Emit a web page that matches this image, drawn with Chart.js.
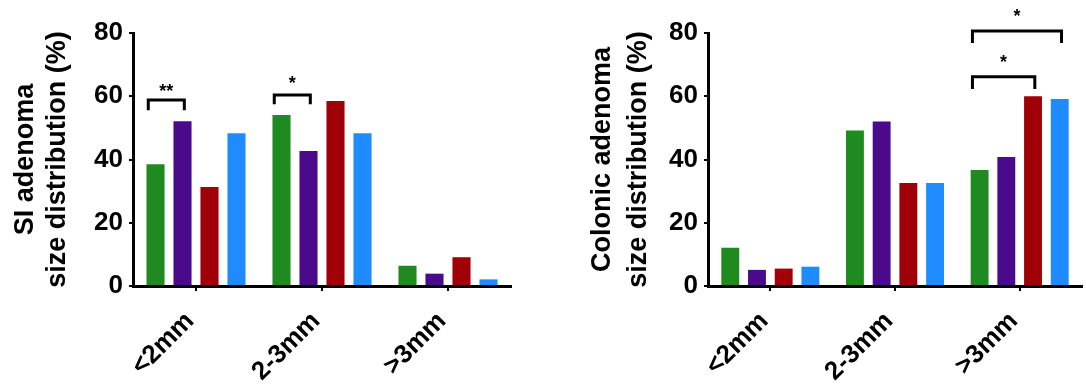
<!DOCTYPE html>
<html>
<head>
<meta charset="utf-8">
<script src="https://cdn.jsdelivr.net/npm/chart.js@4.4.1/dist/chart.umd.min.js"></script>
<style>
  body { margin: 0; background: #fff; }
  .box { position: absolute; top: 0; height: 384px; }
  #left { left: 0; width: 520px; }
  #right { left: 560px; width: 526px; }
</style>
</head>
<body>
<div class="box" id="left"><canvas id="siChart"></canvas></div>
<div class="box" id="right"><canvas id="colChart"></canvas></div>
<script>
// adenoma size distribution, SI vs colon
const sizeLabels = ['<2mm', '2-3mm', '>3mm'];
const yTicks = [0, 20, 40, 60, 80];

const siGreen  = [38.5, 54.1, 6.4];
const siPurple = [52.1, 42.7, 3.9];
const siRed    = [31.3, 58.5, 9.1];
const siBlue   = [48.3, 48.3, 2.1];

const colGreen  = [12.1, 49.2, 36.7];
const colPurple = [5.1, 52.0, 40.8];
const colRed    = [5.5, 32.6, 60.0];
const colBlue   = [6.1, 32.6, 59.1];

// significance marks: category, first bar, second bar, bracket level, leg end, star level
const siMarks = [
  { cat: 0, from: 0, to: 1, top: 58.8, leg: 55.6, star: 62.6, text: '**' },
  { cat: 1, from: 0, to: 1, top: 60.4, leg: 57.5, star: 65.1, text: '*' }
];
const colMarks = [
  { cat: 2, from: 0, to: 3, top: 80.6, leg: 76.8, star: 86.3, text: '*' },
  { cat: 2, from: 0, to: 2, top: 66.2, leg: 62.3, star: 71.8, text: '*' }
];

const colors = ['#1f8a1f', '#4b0a8c', '#a00008', '#1e8cff'];

Chart.defaults.font.family = '"Liberation Sans", Arial, sans-serif';
Chart.defaults.font.weight = 'bold';
Chart.defaults.color = '#000';

const bracketPlugin = {
  id: 'brackets',
  afterDatasetsDraw(chart, args, opts) {
    const ctx = chart.ctx;
    const y = chart.scales.y;
    ctx.save();
    ctx.strokeStyle = '#000';
    ctx.lineWidth = 3;
    ctx.fillStyle = '#000';
    ctx.font = 'bold 18px "Liberation Sans", Arial, sans-serif';
    ctx.textAlign = 'center';
    ctx.textBaseline = 'middle';
    opts.list.forEach(m => {
      const a = chart.getDatasetMeta(m.from).data[m.cat];
      const b = chart.getDatasetMeta(m.to).data[m.cat];
      const x1 = a.x - a.width * 0.4;
      const x2 = b.x + b.width * 0.1;
      const yt = y.getPixelForValue(m.top);
      const yl = y.getPixelForValue(m.leg);
      ctx.beginPath();
      ctx.moveTo(x1, yl);
      ctx.lineTo(x1, yt);
      ctx.lineTo(x2, yt);
      ctx.lineTo(x2, yl);
      ctx.stroke();
      ctx.fillText(m.text, (x1 + x2) / 2, y.getPixelForValue(m.star) + 4);
    });
    ctx.restore();
  }
};

function makeChart(id, series, titleLines, marks, yWidth, titlePad, lineH, padRight) {
  return new Chart(document.getElementById(id), {
    type: 'bar',
    data: {
      labels: sizeLabels,
      datasets: series.map((d, i) => ({
        label: 'group ' + (i + 1),
        data: d,
        backgroundColor: colors[i],
        categoryPercentage: 0.857,
        barPercentage: 0.67
      }))
    },
    options: {
      responsive: true,
      maintainAspectRatio: false,
      animation: false,
      layout: { padding: { top: 33, right: padRight, left: 0, bottom: 0 } },
      plugins: {
        legend: { display: false },
        tooltip: { enabled: false },
        brackets: { list: marks }
      },
      scales: {
        x: {
          afterFit: s => { s.height = 98; },
          border: { width: 3, color: '#000' },
          grid: { offset: false, drawOnChartArea: false, tickLength: 5, lineWidth: 2, color: '#000' },
          ticks: { minRotation: 45, maxRotation: 45, padding: 15, labelOffset: -6, font: { size: 26, weight: 'bold' } }
        },
        y: {
          min: 0,
          max: 80,
          afterFit: s => { s.width = yWidth; },
          afterBuildTicks: s => { s.ticks = yTicks.map(v => ({ value: v })); },
          border: { width: 3, color: '#000' },
          grid: { drawOnChartArea: false, tickLength: 4, lineWidth: 2, color: '#000' },
          ticks: { padding: 6, font: { size: 26, weight: 'bold' } },
          title: {
            display: true,
            text: titleLines,
            padding: { top: titlePad, bottom: 0 },
            font: { size: 27, weight: 'bold', lineHeight: lineH }
          }
        }
      }
    },
    plugins: [bracketPlugin]
  });
}

makeChart('siChart', [siGreen, siPurple, siRed, siBlue],
  ['SI adenoma', 'size distribution (%)'], siMarks, 133, 9, 1.2, 9);
makeChart('colChart', [colGreen, colPurple, colRed, colBlue],
  ['Colonic adenoma', 'size distribution (%)'], colMarks, 148, 24, 1.35, 4);
</script>
</body>
</html>
